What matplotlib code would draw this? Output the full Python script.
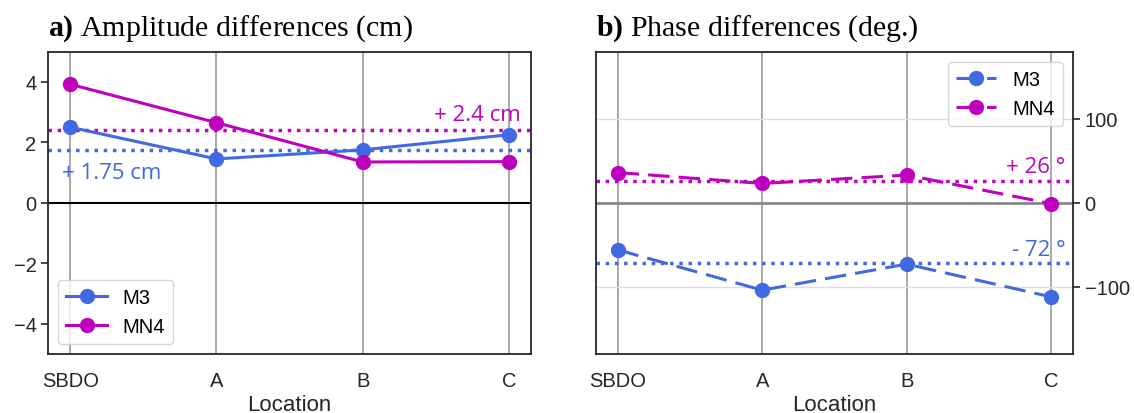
import numpy as np
import matplotlib
matplotlib.use('Agg')
import matplotlib.pyplot as plt

locations = ['SBDO', 'A', 'B', 'C']

amp_m3 = [2.5, 1.45, 1.75, 2.25]
amp_mn4 = [3.92, 2.65, 1.35, 1.36]
amp_mean_m3 = 1.75
amp_mean_mn4 = 2.4

pha_m3 = [-56, -104, -73, -112]
pha_mn4 = [36, 23, 33, -1]
pha_mean_m3 = -72
pha_mean_mn4 = 26

BLUE = '#4169e1'
MAG = '#bf00bf'

plt.rcParams['font.family'] = ['Liberation Sans', 'DejaVu Sans']
plt.rcParams['font.size'] = 14
# serif titles with a bold panel letter
plt.rcParams['mathtext.fontset'] = 'custom'
plt.rcParams['mathtext.rm'] = 'Liberation Serif'
plt.rcParams['mathtext.bf'] = 'Liberation Serif:bold'

fig = plt.figure(figsize=(11.34, 4.14), dpi=100)
ax1 = fig.add_axes([0.0426, 0.1425, 0.4255, 0.7305])
ax2 = fig.add_axes([0.5256, 0.1425, 0.4204, 0.7305])

x = np.arange(len(locations))
note_font = {'family': ['Open Sans', 'DejaVu Sans'], 'size': 16}
dash = (0, (7, 3))

# a) amplitude
for xi in x:
  ax1.axvline(xi, color='#999999', lw=1.2, zorder=0)
ax1.axhline(0, color='black', lw=1.5, zorder=1)
ax1.plot(x, amp_m3, '-o', color=BLUE, lw=2.2, ms=10, label='M3', zorder=3)
ax1.plot(x, amp_mn4, '-o', color=MAG, lw=2.2, ms=10, label='MN4', zorder=3)
ax1.axhline(amp_mean_m3, color=BLUE, ls=':', lw=2.5, zorder=2)
ax1.axhline(amp_mean_mn4, color=MAG, ls=':', lw=2.5, zorder=2)
ax1.text(-0.055, 0.83, '+ %.2f cm' % amp_mean_m3, color=BLUE, ha='left', va='baseline', fontdict=note_font)
ax1.text(3.08, 2.73, '+ %.1f cm' % amp_mean_mn4, color=MAG, ha='right', va='baseline', fontdict=note_font)
ax1.set_ylim(-5, 5)
ax1.set_yticks([-4, -2, 0, 2, 4])
ax1.set_xticks(x)
ax1.set_xticklabels(locations)
ax1.tick_params(axis='x', length=0, pad=12, labelsize=14.5, colors='#262626')
ax1.tick_params(axis='y', length=5, width=1.2, labelsize=14.5, colors='#262626')
ax1.set_xlabel('Location', color='#262626', fontsize=16, labelpad=3)
ax1.legend(loc='lower left', fontsize=14.5, fancybox=True, framealpha=0.8, edgecolor='#cccccc')
ax1.set_title(r'$\mathbf{a)}$ Amplitude differences (cm)', loc='left', fontsize=21.5,
              family='Liberation Serif', pad=12)

# b) phase
for xi in x:
  ax2.axvline(xi, color='#999999', lw=1.2, zorder=0)
for yv in [-100, 100]:
  ax2.axhline(yv, color='#dddddd', lw=1.0, zorder=0)
ax2.axhline(0, color='#888888', lw=2.0, zorder=1)
ax2.plot(x, pha_m3, 'o', color=BLUE, lw=2.2, ms=10, ls=dash, label='M3', zorder=3)
ax2.plot(x, pha_mn4, 'o', color=MAG, lw=2.2, ms=10, ls=dash, label='MN4', zorder=3)
ax2.axhline(pha_mean_m3, color=BLUE, ls=':', lw=2.5, zorder=2)
ax2.axhline(pha_mean_mn4, color=MAG, ls=':', lw=2.5, zorder=2)
ax2.text(3.1, 37, '+ %d °' % pha_mean_mn4, color=MAG, ha='right', va='baseline', fontdict=note_font)
ax2.text(3.1, -62, '- %d °' % abs(pha_mean_m3), color=BLUE, ha='right', va='baseline', fontdict=note_font)
ax2.set_ylim(-180, 180)
ax2.set_yticks([-100, 0, 100])
ax2.yaxis.tick_right()
ax2.set_xticks(x)
ax2.set_xticklabels(locations)
ax2.tick_params(axis='x', length=0, pad=12, labelsize=14.5, colors='#262626')
ax2.tick_params(axis='y', length=5, width=1.2, labelsize=14.5, colors='#262626')
ax2.set_xlabel('Location', color='#262626', fontsize=16, labelpad=3)
ax2.legend(loc='upper right', fontsize=14.5, fancybox=True, framealpha=0.8, edgecolor='#cccccc')
ax2.set_title(r'$\mathbf{b)}$ Phase differences (deg.)', loc='left', fontsize=21.5,
              family='Liberation Serif', pad=12)

for ax in (ax1, ax2):
  for sp in ax.spines.values():
    sp.set_color('#262626')
    sp.set_linewidth(1.3)

fig.savefig('out.png', dpi=100)
